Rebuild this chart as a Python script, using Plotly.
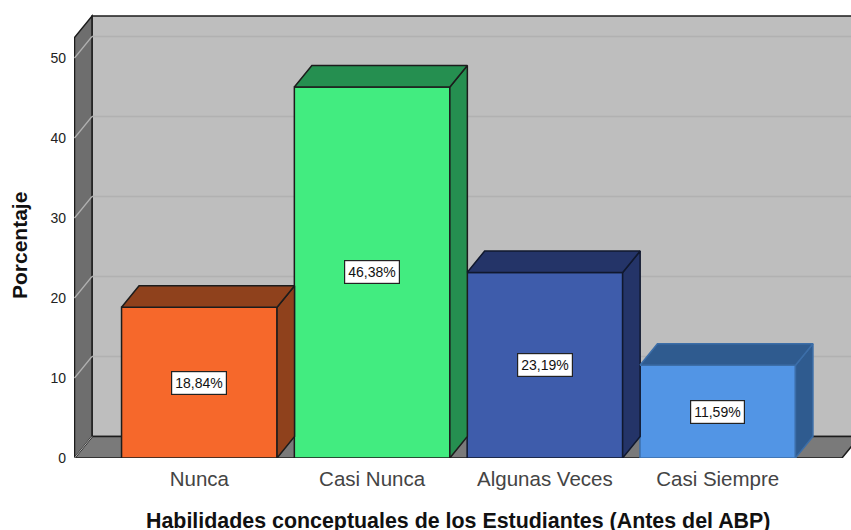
import plotly.graph_objects as go

categories = ["Nunca", "Casi Nunca", "Algunas Veces", "Casi Siempre"]
values = [18.84, 46.38, 23.19, 11.59]
labels = ["18,84%", "46,38%", "23,19%", "11,59%"]
front_colors = ["#F6682B", "#42EC80", "#3E5CAB", "#5295E5"]
side_colors = ["#8F411C", "#258F50", "#243468", "#2F5B8F"]
edge_colors = ["#1c1c1c", "#1c1c1c", "#10182e", "#3c6ea8"]
y_ticks = [0, 10, 20, 30, 40, 50]

# Scale and extrusion settings
px_x = 172.8
px_y = 8.0
DX = 17.5 / px_x
DY = 21.5 / px_y
WIDTH = 155.5 / px_x
X_LO = (74 - 199.3) / px_x
X_HI = X_LO + 777 / px_x
Y_HI = 447 / px_y
WALL_TOP = Y_HI - 5 / px_y
X_LEFT = (74.5 - 199.3) / px_x
X_FLOOR_R = (842 - 199.3) / px_x

xs = list(range(len(categories)))
WALL = "#BEBEBE"
WALL_DARK = "#6E6E6E"
FLOOR = "#7A7A7A"
LINE = "#1c1c1c"
GRID = "#B1B1B1"


def poly(points, fill, line=LINE, width=1.5, layer="below"):
    path = "M " + " L ".join(f"{a},{b}" for a, b in points) + " Z"
    return dict(type="path", path=path, xref="x", yref="y", fillcolor=fill,
                line=dict(color=line, width=width), layer=layer)


shapes = []
# back wall
shapes.append(poly([(X_LEFT + DX, DY), (X_HI + 1, DY), (X_HI + 1, WALL_TOP), (X_LEFT + DX, WALL_TOP)], WALL))
# floor
shapes.append(poly([(X_LEFT, 0), (X_FLOOR_R, 0), (X_FLOOR_R + DX, DY), (X_LEFT + DX, DY)], FLOOR))
# left wall
shapes.append(poly([(X_LEFT, 0), (X_LEFT, WALL_TOP - DY), (X_LEFT + DX, WALL_TOP), (X_LEFT + DX, DY)], WALL_DARK))
# gridlines
for t in y_ticks[1:]:
    shapes.append(dict(type="line", xref="x", yref="y", x0=X_LEFT + DX, x1=X_HI + 1, y0=t + DY, y1=t + DY,
                       line=dict(color=GRID, width=1.5), layer="below"))
    shapes.append(dict(type="line", xref="x", yref="y", x0=X_LEFT, x1=X_LEFT + DX, y0=t, y1=t + DY,
                       line=dict(color=GRID, width=1.2), layer="below"))
shapes.append(dict(type="line", xref="x", yref="y", x0=X_LEFT, x1=X_LEFT + DX, y0=0, y1=DY,
                   line=dict(color=GRID, width=1), layer="below"))

fig = go.Figure()
fig.add_trace(go.Bar(x=xs, y=values, width=WIDTH, marker=dict(color=front_colors, line=dict(color=edge_colors, width=1.5)),
                     showlegend=False, hoverinfo="skip"))

for x, v, side, edge in zip(xs, values, side_colors, edge_colors):
    l, r = x - WIDTH / 2, x + WIDTH / 2
    fig.add_trace(go.Scatter(x=[r, r + DX, r + DX, r, r], y=[0, DY, v + DY, v, 0], mode="lines", fill="toself",
                             fillcolor=side, line=dict(color=edge, width=1.5), showlegend=False, hoverinfo="skip"))
    fig.add_trace(go.Scatter(x=[l, r, r + DX, l + DX, l], y=[v, v, v + DY, v + DY, v], mode="lines", fill="toself",
                             fillcolor=side, line=dict(color=edge, width=1.5), showlegend=False, hoverinfo="skip"))

annotations = [dict(x=x, y=v / 2, xref="x", yref="y", text=t, showarrow=False,
                    font=dict(family="Liberation Sans", size=14, color="#111"),
                    bgcolor="white", bordercolor="#222", borderwidth=1.2, borderpad=3)
               for x, v, t in zip(xs, values, labels)]
annotations.append(dict(x=458 / 851, y=(530 - 521) / 530, xref="paper", yref="paper", yanchor="middle", xanchor="center",
                        yshift=0, showarrow=False, align="center",
                        text="<b>Habilidades conceptuales de los Estudiantes (Antes del ABP)</b>",
                        font=dict(size=21.4, color="#111")))
annotations.append(dict(x=20 / 851, y=(530 - 246) / 530, xref="paper", yref="paper", yanchor="middle", xanchor="center",
                        showarrow=False, textangle=-90, text="<b>Porcentaje</b>",
                        font=dict(size=21, color="#111")))
# paper coordinates are relative to the plot area; convert from page pixels
PL, PT, PB = 74, 11, 72
PW, PH = 851 - PL, 530 - PT - PB
annotations[-2]["x"] = (458 - PL) / PW
annotations[-2]["y"] = (530 - PB - 521) / PH
annotations[-1]["x"] = (20 - PL) / PW
annotations[-1]["y"] = (530 - PB - 246) / PH

fig.update_layout(
    width=851, height=530, autosize=False,
    margin=dict(l=PL, r=0, t=PT, b=PB),
    paper_bgcolor="white", plot_bgcolor="white",
    shapes=shapes, annotations=annotations,
    font=dict(family="Liberation Sans", color="#222"),
    xaxis=dict(range=[X_LO, X_HI], tickmode="array", tickvals=xs, ticktext=categories,
               tickfont=dict(size=20.5, color="#444"), showgrid=False, zeroline=False, showline=False,
               ticklen=0, ticklabelstandoff=6),
    yaxis=dict(range=[0, Y_HI], tickmode="array", tickvals=y_ticks,
               tickfont=dict(size=14, color="#222"), showgrid=False, zeroline=False, showline=False,
               ticklen=0, ticklabelstandoff=7),
)
fig.write_html("out.html", config={"displayModeBar": False},
               post_script="document.body.style.margin='0';document.body.style.overflow='hidden';")
